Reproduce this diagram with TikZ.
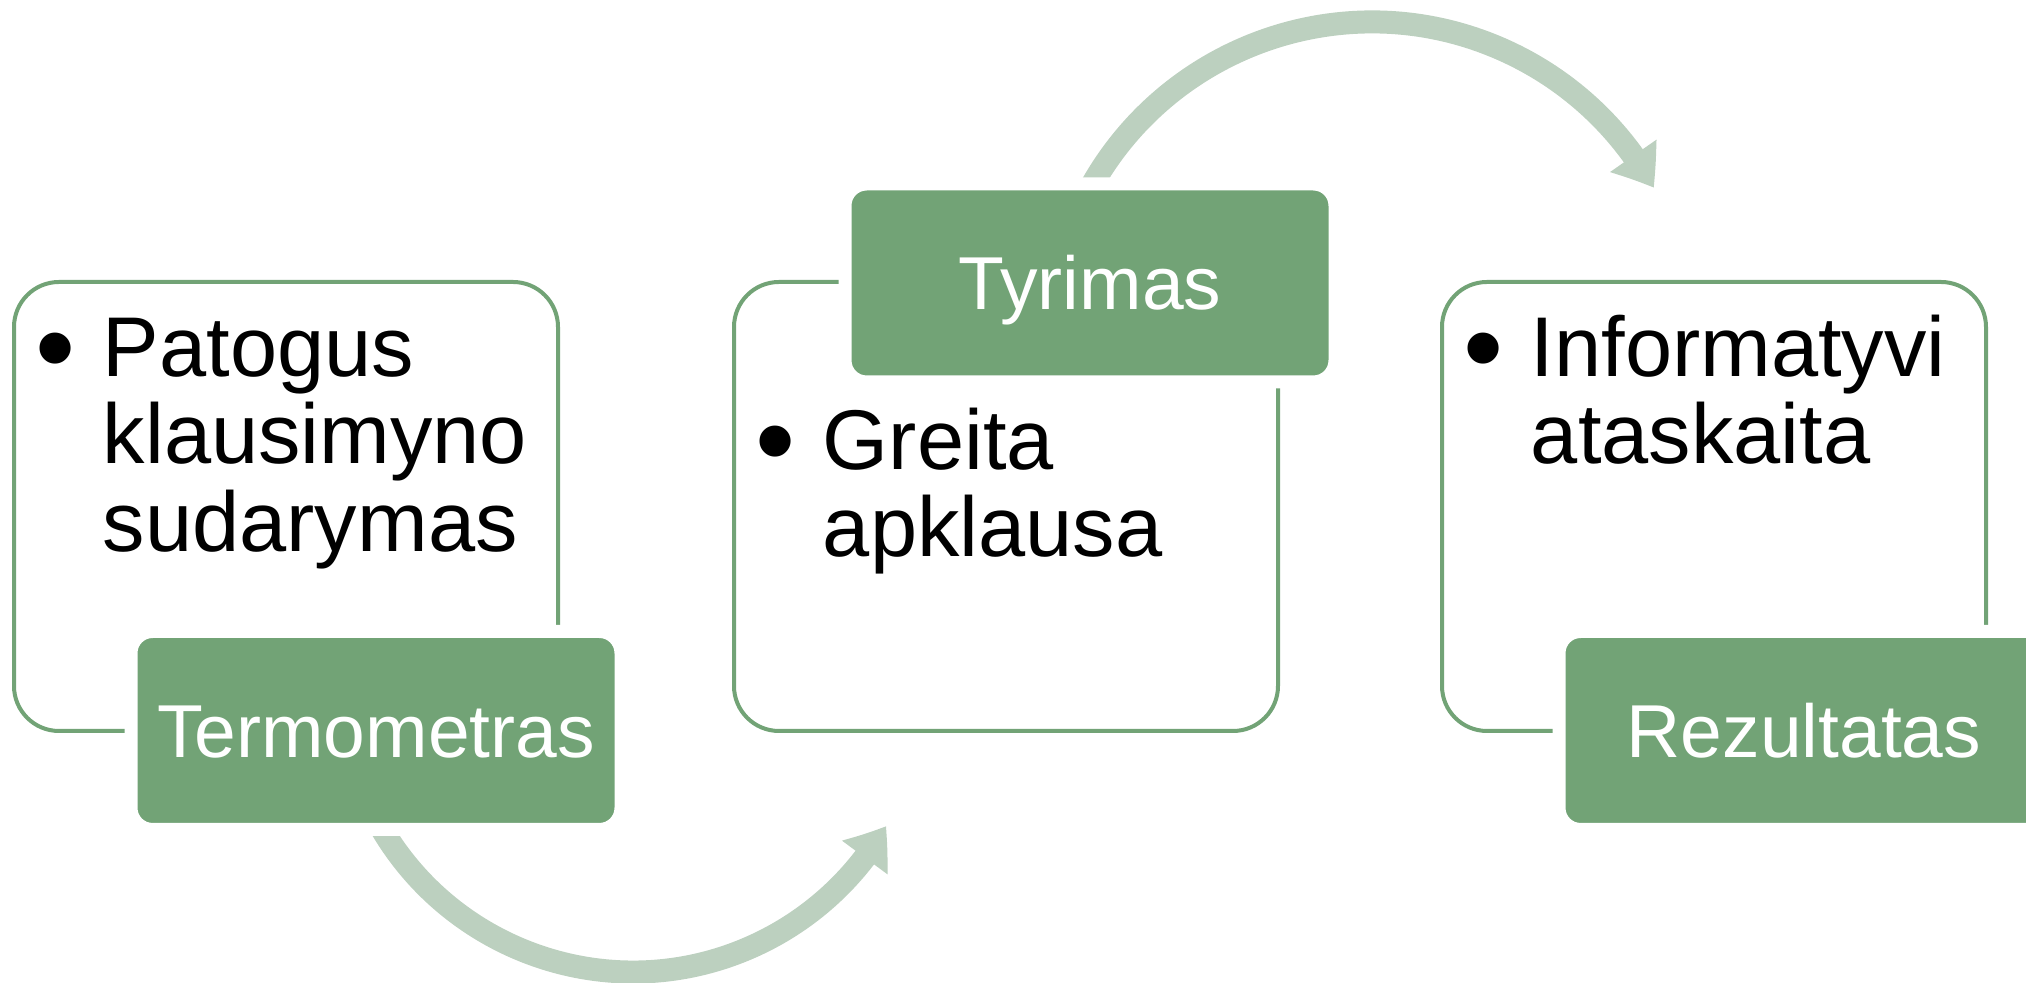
\documentclass[tikz,border=0pt]{standalone}
\usepackage{fontspec}
\usepackage{graphicx}
\setmainfont{Liberation Sans}
\usetikzlibrary{arrows.meta,bending}
\newcommand{\bitem}[1]{\begin{tabular}[t]{@{}l@{}l@{}}\makebox[16.85pt][l]{\raisebox{-2.6pt}{\scalebox{1.35}{\textbullet}}}&#1\end{tabular}}
\begin{document}
\begin{tikzpicture}[
  x=0.25pt, y=0.25pt,
  panel/.style={
    draw=Cline, line width=1pt, rounded corners=11.25pt,
    minimum width=136pt, minimum height=112.25pt, inner sep=0pt
  },
  tag/.style={
    fill=Cfill, draw=white, line width=3.25pt, rounded corners=5.4pt,
    minimum width=122.5pt, minimum height=49.5pt, inner sep=0pt,
    text=white, text height=13.4pt, text depth=0pt,
    font=\fontsize{18.75}{20}\selectfont
  },
  item/.style={
    anchor=base west, inner sep=0pt,
    font=\fontsize{21.2}{21.65}\selectfont
  },
  loop/.style={
    draw=Carrow, line width=5.75pt,
    -{Triangle[length=9.5pt,width=13.5pt,bend]}
  }
]
\definecolor{Cfill}{RGB}{114,163,118}
\definecolor{Cline}{RGB}{114,163,118}
\definecolor{Carrow}{RGB}{188,208,191}
\useasboundingbox (0,0) rectangle (2026,983);
\clip (0,0) rectangle (2026,983);
%% PANELS
\node[panel] (P1) at ( 286,476.5) {};
\node[panel] (P2) at (1006,476.5) {};
\node[panel] (P3) at (1714,476.5) {};
%% BULLET TEXT
\node[item] (I1) at ([shift={(22.7,-96.5)}]P1.north west) {\bitem{Patogus\\ &klausimyno\\ &sudarymas}};
\node[item] (I2) at ([shift={(22.7,-189.5)}]P2.north west) {\bitem{Greita\\ &apklausa}};
\node[item] (I3) at ([shift={(22.7,-96.5)}]P3.north west) {\bitem{Informatyvi\\ &ataskaita}};
%% LOOP ARROWS
\coordinate (O1) at ( 633,303);
\coordinate (O2) at (1372,639);
\draw[loop] ([shift={(205:292)}]O1) arc[start angle=205, end angle=330, radius=292];
\draw[loop] ([shift={(155:322)}]O2) arc[start angle=155, end angle=29, radius=322];
%% TAGS
\node[tag] (T1) at ( 376,252.5) {Termometras};
\node[tag] (T2) at (1090,700)   {Tyrimas};
\node[tag] (T3) at (1804,252.5) {Rezultatas};
\end{tikzpicture}
\end{document}
